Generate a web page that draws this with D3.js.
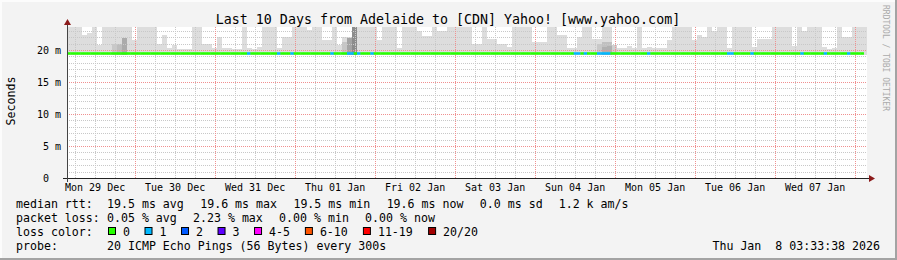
<!DOCTYPE html>
<html>
<head>
<meta charset="utf-8">
<script src="https://cdn.jsdelivr.net/npm/d3@7"></script>
<style>
    html, body { margin: 0; padding: 0; background: #f3f3f3; }
    svg { display: block; }
    text { font-family: "DejaVu Sans Mono", monospace; fill: #000; white-space: pre; }
</style>
</head>
<body>
<svg id="chart" width="897" height="260"></svg>
<script>
// ---- data ----
var titleText = "Last 10 Days from Adelaide to [CDN] Yahoo! [www.yahoo.com]";
var yLabel = "Seconds";
var watermark = "RRDTOOL / TOBI OETIKER";
var stampText = "Thu Jan  8 03:33:38 2026";
var startTime = new Date(2025, 11, 29, 3, 33, 38);
var endTime = new Date(2026, 0, 8, 3, 33, 38);
var yMax = 23.6;
var yTicks = [0, 5, 10, 15, 20];
var dayLabels = ["Mon 29 Dec", "Tue 30 Dec", "Wed 31 Dec", "Thu 01 Jan", "Fri 02 Jan",
    "Sat 03 Jan", "Sun 04 Jan", "Mon 05 Jan", "Tue 06 Jan", "Wed 07 Jan"];

// smoke: one value per 1.5 h bin, top of the lightest band (ms)
var smokeStepHours = 1.5;
var smokeFloor = 19.3;
var smokeTop = [
    24, 24, 24, 22.4, 22.6, 24, 20.8, 24, 24, 24,
    24, 24, 24, 21.5, 24, 24, 24, 24, 21, 22.4,
    20.3, 20.8, 20.2, 20.2, 20.2, 24, 24, 21, 21, 20.3,
    22, 20.3, 20.3, 20.2, 20.2, 24, 20.3, 20.2, 20.5, 24,
    24, 24, 20.3, 22, 22, 24, 24, 24, 23.2, 24,
    24, 21.5, 21.5, 24, 20.8, 22, 22, 24, 24, 24,
    24, 24, 21.5, 24, 24, 24, 20.3, 24, 24, 24,
    23, 22.2, 22.2, 24, 23, 23, 24, 24, 24, 24,
    24, 21, 21, 24, 21.7, 21.7, 20.9, 20.9, 20.5, 24,
    24, 24, 24, 21.2, 21.2, 21.2, 24, 24, 22.4, 22.4,
    20.3, 20.3, 22, 24, 24, 21.7, 21.7, 24, 24, 20.4,
    20.3, 20.3, 20.6, 20.3, 24, 20.3, 20.5, 20.3, 20.3, 20.3,
    21.6, 24, 24, 24, 24, 21.5, 22.4, 22, 24, 23,
    24, 24, 20.3, 24, 24, 24, 24, 20.5, 21.7, 21.7,
    21.7, 24, 24, 24, 24, 20.6, 24, 23, 24, 24,
    24, 20.4, 20.2, 20.3, 24, 22, 22, 24, 24, 24
];
// darker smoke bands (bin index, top in ms, shade)
var darkBins = [9, 10, 11, 11, 55, 56, 57, 106, 107, 108, 109, 107, 108];
var darkTop = [21.0, 21.0, 21.0, 21.9, 21.3, 21.9, 24, 21.0, 21.2, 21.2, 20.8, 20.5, 20.6];
var darkShade = ["#c8c8c8", "#bdbdbd", "#c8c8c8", "#ababab",
    "#c6c6c6", "#a4a4a4", "#8c8c8c", "#c8c8c8", "#c0c0c0", "#c0c0c0", "#d0d0d0", "#b0b0b0", "#b0b0b0"];

// median rtt per 1 h bin, with hours that lost packets
var medianMs = 19.5;
var medianBins = 239;
var lossHours = [54, 63, 67, 79, 84, 85, 87, 91, 152, 153, 155, 159, 160, 161, 162, 174, 198, 199, 205, 220, 227, 234];
var lossCounts = [1, 1, 1, 1, 1, 1, 1, 1, 1, 1, 1, 1, 1, 1, 1, 1, 1, 1, 1, 1, 1, 1];

// legend
var rttValues = [19.5, 19.6, 19.5, 19.6];
var statNames = ["avg", "max", "min", "now"];
var rttSd = 0.0;
var rttAmps = "1.2 k";
var lossValues = [0.05, 2.23, 0.00, 0.00];
var lossLabels = ["0", "1", "2", "3", "4-5", "6-10", "11-19", "20/20"];
var lossColors = ["#26ff00", "#00b8ff", "#0059ff", "#5e00ff", "#ff00ff", "#ff5500", "#ff0000", "#a10000"];
var probeText = "20 ICMP Echo Pings (56 Bytes) every 300s";

// ---- drawing ----
var svg = d3.select("#chart");
var W = 897, H = 260;
var plotLeft = 67, plotRight = 867, plotTop = 27, plotBottom = 178;

var x = d3.scaleTime().domain([startTime, endTime]).range([plotLeft, plotRight]);
var y = d3.scaleLinear().domain([0, yMax]).range([plotBottom, plotTop]);

// frame
svg.append("rect").attr("width", W).attr("height", H).attr("fill", "#f3f3f3");
svg.append("rect").attr("x", 0).attr("y", 0).attr("width", W).attr("height", 2).attr("fill", "#fcfcfc");
svg.append("rect").attr("x", 0).attr("y", 0).attr("width", 2).attr("height", H).attr("fill", "#fcfcfc");
svg.append("rect").attr("x", 0).attr("y", H - 2).attr("width", W).attr("height", 2).attr("fill", "#a3a3a3");
svg.append("rect").attr("x", W - 2).attr("y", 0).attr("width", 2).attr("height", H).attr("fill", "#a3a3a3");

// plot background
svg.append("rect")
    .attr("x", plotLeft).attr("y", plotTop)
    .attr("width", plotRight - plotLeft).attr("height", plotBottom - plotTop)
    .attr("fill", "#fff");

var plot = svg.append("g");

function binStart(i, step) {
    return new Date(startTime.getTime() + i * step * 3600 * 1000);
}

// light smoke
plot.selectAll(".smoke")
    .data(smokeTop)
    .enter()
    .append("rect")
    .attr("x", function (d, i) { return x(binStart(i, smokeStepHours)); })
    .attr("width", function (d, i) { return x(binStart(i + 1, smokeStepHours)) - x(binStart(i, smokeStepHours)); })
    .attr("y", function (d) { return y(Math.min(d, yMax)); })
    .attr("height", function (d) { return y(smokeFloor) - y(Math.min(d, yMax)); })
    .attr("fill", "#dddddd")
    .attr("shape-rendering", "crispEdges");

// darker smoke
plot.selectAll(".dark")
    .data(darkBins)
    .enter()
    .append("rect")
    .attr("x", function (d) { return x(binStart(d, smokeStepHours)); })
    .attr("width", function (d) { return x(binStart(d + 1, smokeStepHours)) - x(binStart(d, smokeStepHours)); })
    .attr("y", function (d, i) { return y(Math.min(darkTop[i], yMax)); })
    .attr("height", function (d, i) { return y(smokeFloor) - y(Math.min(darkTop[i], yMax)); })
    .attr("fill", function (d, i) { return darkShade[i]; })
    .attr("shape-rendering", "crispEdges");

// grid
var grid = svg.append("g").attr("shape-rendering", "crispEdges");
var minorY = d3.range(1, Math.floor(yMax) + 1).filter(function (v) { return v % 5 !== 0; });
grid.selectAll(".hmin")
    .data(minorY)
    .enter()
    .append("line")
    .attr("x1", plotLeft).attr("x2", plotRight)
    .attr("y1", function (d) { return Math.round(y(d)) + 0.5; })
    .attr("y2", function (d) { return Math.round(y(d)) + 0.5; })
    .attr("stroke", "#c8c8c8")
    .attr("stroke-dasharray", "1,1");

var minorX = d3.timeHour.every(6).range(startTime, endTime)
    .filter(function (t) { return t.getHours() !== 0; });
grid.selectAll(".vmin")
    .data(minorX)
    .enter()
    .append("line")
    .attr("x1", function (d) { return Math.round(x(d)) + 0.5; })
    .attr("x2", function (d) { return Math.round(x(d)) + 0.5; })
    .attr("y1", plotTop).attr("y2", plotBottom)
    .attr("stroke", "#c8c8c8")
    .attr("stroke-dasharray", "1,1");

grid.selectAll(".hmaj")
    .data(yTicks.filter(function (v) { return v > 0; }))
    .enter()
    .append("line")
    .attr("x1", plotLeft).attr("x2", plotRight)
    .attr("y1", function (d) { return Math.round(y(d)) + 0.5; })
    .attr("y2", function (d) { return Math.round(y(d)) + 0.5; })
    .attr("stroke", "#f09090")
    .attr("stroke-dasharray", "1,1");

grid.selectAll(".vmaj")
    .data(d3.timeDay.range(startTime, endTime))
    .enter()
    .append("line")
    .attr("x1", function (d) { return Math.round(x(d)) + 0.5; })
    .attr("x2", function (d) { return Math.round(x(d)) + 0.5; })
    .attr("y1", plotTop).attr("y2", plotBottom)
    .attr("stroke", "#f09090")
    .attr("stroke-dasharray", "1,1");

// median line coloured by loss
var medianData = d3.range(medianBins).map(function (h) {
    var k = lossHours.indexOf(h);
    return { h: h, loss: k < 0 ? 0 : lossCounts[k] };
});
function lossColor(n) {
    if (n <= 3) return lossColors[n];
    if (n <= 5) return lossColors[4];
    if (n <= 10) return lossColors[5];
    if (n <= 19) return lossColors[6];
    return lossColors[7];
}
svg.append("g").selectAll("rect")
    .data(medianData)
    .enter()
    .append("rect")
    .attr("x", function (d) { return x(binStart(d.h, 1)); })
    .attr("width", function (d) { return x(binStart(d.h + 1, 1)) - x(binStart(d.h, 1)) + 0.3; })
    .attr("y", y(medianMs) - 1)
    .attr("height", 2.5)
    .attr("fill", function (d) { return lossColor(d.loss); });

// axes
svg.append("line")
    .attr("x1", plotLeft - 4).attr("x2", plotRight + 4)
    .attr("y1", plotBottom + 0.5).attr("y2", plotBottom + 0.5)
    .attr("stroke", "#222");
svg.append("line")
    .attr("x1", plotLeft + 0.5).attr("x2", plotLeft + 0.5)
    .attr("y1", plotBottom + 4).attr("y2", plotTop - 4)
    .attr("stroke", "#444");
svg.append("path")
    .attr("d", "M" + (plotLeft - 3) + "," + (plotTop - 2) + "L" + (plotLeft + 4) + "," + (plotTop - 2) + "L" + (plotLeft + 0.5) + "," + (plotTop - 8) + "Z")
    .attr("fill", "#8b1a1a");
svg.append("path")
    .attr("d", "M" + (plotRight + 2) + "," + (plotBottom - 3) + "L" + (plotRight + 2) + "," + (plotBottom + 4) + "L" + (plotRight + 8) + "," + (plotBottom + 0.5) + "Z")
    .attr("fill", "#8b1a1a");

// y tick labels
svg.selectAll(".ylab")
    .data(yTicks)
    .enter()
    .append("text")
    .attr("x", 61)
    .attr("y", function (d) { return y(d); })
    .attr("dy", "0.35em")
    .attr("text-anchor", "end")
    .style("font-size", "10px")
    .text(function (d) { return d === 0 ? "0  " : d + " m"; });

// x labels at noon of each day
svg.selectAll(".xlab")
    .data(dayLabels)
    .enter()
    .append("text")
    .attr("x", function (d, i) {
        return x(new Date(startTime.getFullYear(), startTime.getMonth(), startTime.getDate() + i, 12));
    })
    .attr("y", 191)
    .attr("text-anchor", "middle")
    .style("font-size", "10px")
    .text(function (d) { return d; });

// title and side texts
svg.append("text")
    .attr("x", 448).attr("y", 24)
    .attr("text-anchor", "middle")
    .style("font-size", "13.3px")
    .text(titleText);

svg.append("text")
    .attr("transform", "translate(15,101) rotate(-90)")
    .attr("text-anchor", "middle")
    .style("font-size", "11.6px")
    .text(yLabel);

svg.append("text")
    .attr("transform", "translate(883,5) rotate(90)")
    .style("font-size", "8px")
    .style("fill", "#aaaaaa")
    .text(watermark);

// legend
var cw = 7.17, col = 107, fs = "11.6px";
var rows = [208, 222, 236, 250];

function chunks(list, baseline) {
    var cx = col;
    list.forEach(function (s) {
        svg.append("text").attr("x", cx).attr("y", baseline).style("font-size", fs).text(s);
        cx += (s.length + 2) * cw;
    });
}

svg.append("text").attr("x", 16).attr("y", rows[0]).style("font-size", fs).text("median rtt:");
chunks(rttValues.map(function (v, i) { return v.toFixed(1) + " ms " + statNames[i]; })
    .concat([rttSd.toFixed(1) + " ms sd", rttAmps + " am/s"]), rows[0]);

svg.append("text").attr("x", 16).attr("y", rows[1]).style("font-size", fs).text("packet loss:");
chunks(lossValues.map(function (v, i) { return v.toFixed(2) + " % " + statNames[i]; }), rows[1]);

svg.append("text").attr("x", 16).attr("y", rows[2]).style("font-size", fs).text("loss color:");
var sx = col + 1;
lossLabels.forEach(function (lab, i) {
    svg.append("rect")
        .attr("x", sx + 0.5).attr("y", rows[2] - 8.5)
        .attr("width", 7).attr("height", 7)
        .attr("fill", lossColors[i])
        .attr("stroke", "#000");
    svg.append("text").attr("x", sx + 15).attr("y", rows[2]).style("font-size", fs).text(lab);
    sx += 15 + (lab.length + 2) * cw;
});

svg.append("text").attr("x", 16).attr("y", rows[3]).style("font-size", fs).text("probe:");
svg.append("text").attr("x", col).attr("y", rows[3]).style("font-size", fs).text(probeText);
svg.append("text").attr("x", 880).attr("y", rows[3]).attr("text-anchor", "end").style("font-size", fs).text(stampText);
</script>
</body>
</html>
